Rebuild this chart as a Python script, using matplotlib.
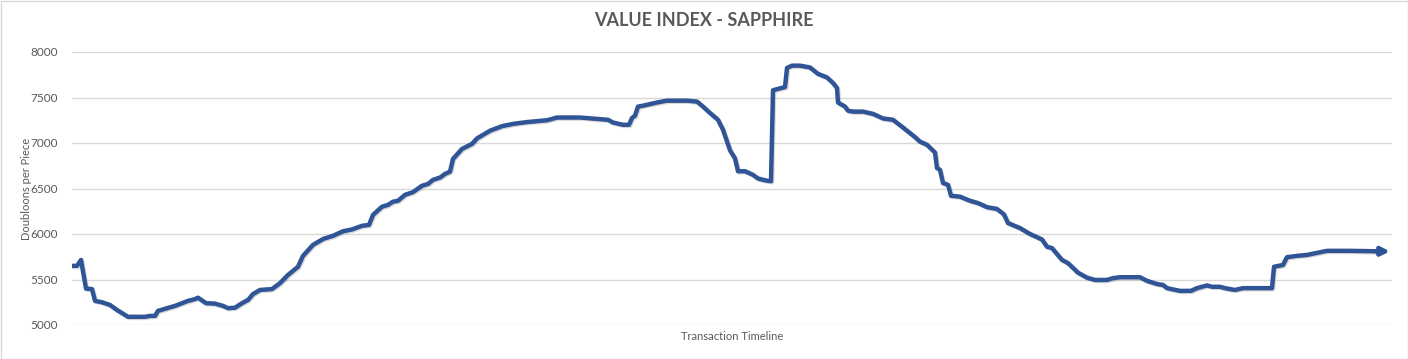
import matplotlib
matplotlib.use("Agg")
import matplotlib.pyplot as plt
import matplotlib.patheffects as pe
from matplotlib.patches import Rectangle

# transaction index (timeline position) and value per piece
timeline = [
    0, 5, 9, 14, 20, 23, 30, 38, 45, 56, 73, 78, 83, 86, 95, 103, 116, 123, 126,
    134, 143, 151, 156, 163, 170, 176, 181, 188, 200, 208, 216, 226, 231, 241,
    251, 261, 271, 280, 290, 297, 301, 310, 316, 321, 326, 333, 341, 350, 356,
    361, 368, 373, 378, 381, 390, 400, 405, 418, 430, 441, 455, 475, 485, 508,
    525, 536, 541, 551, 557, 560, 563, 566, 571, 585, 595, 615, 625, 631, 638,
    646, 651, 658, 663, 666, 673, 681, 686, 693, 699, 701, 706, 713, 715, 720,
    728, 738, 746, 755, 761, 765, 766, 773, 776, 781, 791, 801, 811, 821, 831,
    843, 848, 855, 863, 865, 868, 871, 876, 879, 888, 898, 906, 915, 925, 932,
    936, 948, 958, 970, 975, 980, 990, 996, 1006, 1015, 1023, 1035, 1041, 1048,
    1068, 1075, 1085, 1091, 1095, 1108, 1119, 1125, 1135, 1140, 1148, 1153,
    1163, 1171, 1200, 1202, 1211, 1215, 1225, 1235, 1255, 1278, 1305, 1318,
]
doubloons = [
    5650, 5650, 5715, 5400, 5395, 5265, 5250, 5220, 5165, 5090, 5090, 5100,
    5100, 5155, 5185, 5210, 5265, 5285, 5300, 5240, 5235, 5210, 5185, 5190,
    5240, 5275, 5340, 5385, 5395, 5460, 5550, 5640, 5760, 5880, 5945, 5980,
    6030, 6050, 6090, 6100, 6210, 6300, 6320, 6355, 6365, 6430, 6460, 6530,
    6550, 6595, 6620, 6660, 6685, 6825, 6935, 6990, 7050, 7135, 7185, 7210,
    7230, 7250, 7280, 7280, 7265, 7255, 7225, 7200, 7200, 7275, 7300, 7400,
    7410, 7445, 7465, 7465, 7455, 7400, 7330, 7255, 7145, 6920, 6830, 6690,
    6690, 6650, 6610, 6590, 6580, 7580, 7595, 7615, 7825, 7850, 7850, 7830,
    7760, 7720, 7660, 7605, 7445, 7400, 7355, 7345, 7345, 7320, 7270, 7255,
    7170, 7065, 7015, 6980, 6895, 6725, 6705, 6560, 6540, 6420, 6410, 6365,
    6340, 6295, 6275, 6215, 6120, 6065, 6000, 5940, 5860, 5845, 5715, 5680,
    5575, 5520, 5495, 5495, 5515, 5525, 5525, 5485, 5450, 5440, 5405, 5375,
    5375, 5405, 5435, 5420, 5420, 5405, 5385, 5405, 5405, 5640, 5660, 5745,
    5760, 5770, 5815, 5815, 5810, 5810,
]
y_ticks = [5000, 5500, 6000, 6500, 7000, 7500, 8000]

TITLE = "VALUE INDEX - SAPPHIRE"
XLABEL = "Transaction Timeline"
YLABEL = "Doubloons per Piece"

LINE = "#2f5597"
TEXT = "#595959"
GRID = "#d9d9d9"

plt.rcParams["font.family"] = ["Lato", "DejaVu Sans"]

W, H = 1408, 359
fig = plt.figure(figsize=(W / 100, H / 100), dpi=100)
ax = fig.add_axes([72 / W, 1 - 325 / H, (1392 - 72) / W, (325 - 52) / H])

ax.plot(timeline[:-1], doubloons[:-1], color=LINE, lw=3.2, solid_joinstyle="round",
        solid_capstyle="round", zorder=3,
        path_effects=[pe.SimpleLineShadow(offset=(0.8, -0.8), alpha=0.25, shadow_color="0.4"),
                      pe.Normal()])
ax.annotate("", xy=(timeline[-1], doubloons[-1]), xytext=(timeline[-2] - 1, doubloons[-2]),
            arrowprops=dict(arrowstyle="-|>", color=LINE, lw=3.2, mutation_scale=12,
                            shrinkA=0, shrinkB=0), zorder=4)

ax.set_xlim(0, 1320)
ax.set_ylim(5000, 8000)
ax.set_yticks(y_ticks)
ax.set_yticklabels([str(v) for v in y_ticks])
ax.set_xticks([])
ax.tick_params(axis="y", length=0, pad=10, labelsize=8.5, labelcolor=TEXT)
ax.grid(True, axis="y", color=GRID, lw=1)
ax.set_axisbelow(True)
for s in ax.spines.values():
    s.set_visible(False)

ax.set_xlabel(XLABEL, fontsize=8, color=TEXT, labelpad=4)
ax.set_ylabel(YLABEL, fontsize=8, color=TEXT)
ax.yaxis.set_label_coords(-0.0303, 0.5)
fig.text(0.5, 1 - 21 / H, TITLE, ha="center", va="center", fontsize=13,
         fontweight="bold", color=TEXT)

fig.patches.append(Rectangle((0.5 / W, 0.5 / H), 1 - 1 / W, 1 - 1 / H,
                             transform=fig.transFigure, fill=False,
                             edgecolor=GRID, lw=1))

fig.savefig("out.png", dpi=100)
